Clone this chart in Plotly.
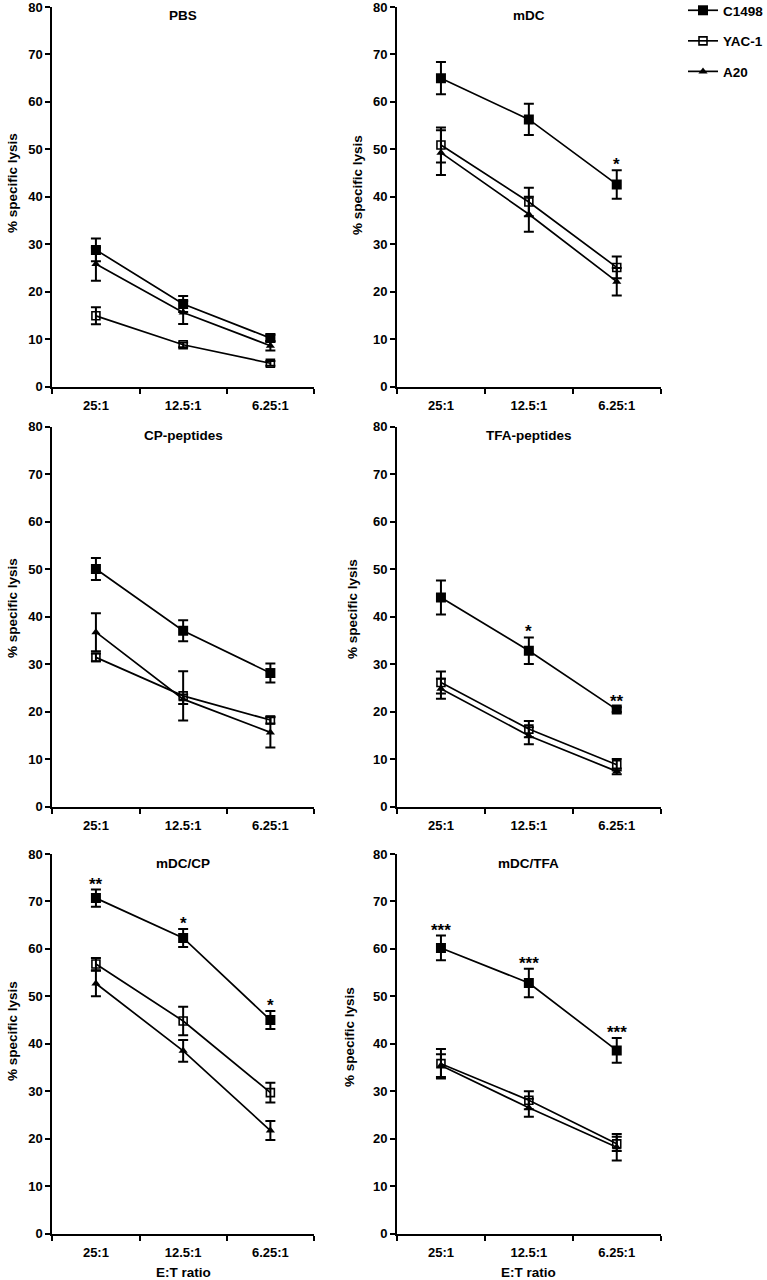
import plotly.graph_objects as go

ratios = ["25:1", "12.5:1", "6.25:1"]
panel_titles = ["PBS", "mDC", "CP-peptides", "TFA-peptides", "mDC/CP", "mDC/TFA"]
series_names = ["C1498", "YAC-1", "A20"]

# mean values (% specific lysis) and SEM per panel
pbs_c1498 = [28.8, 17.4, 10.2]
pbs_c1498_err = [2.4, 1.7, 0.7]
pbs_yac1 = [14.9, 8.8, 4.9]
pbs_yac1_err = [1.8, 0.5, 0.5]
pbs_a20 = [25.8, 15.6, 8.6]
pbs_a20_err = [3.5, 2.4, 1.0]

mdc_c1498 = [65.0, 56.3, 42.6]
mdc_c1498_err = [3.4, 3.3, 3.0]
mdc_yac1 = [50.9, 38.9, 25.1]
mdc_yac1_err = [3.7, 3.0, 2.3]
mdc_a20 = [49.3, 36.3, 22.1]
mdc_a20_err = [4.7, 3.7, 2.9]

cp_c1498 = [50.0, 37.0, 28.1]
cp_c1498_err = [2.3, 2.2, 2.0]
cp_yac1 = [31.4, 23.3, 18.2]
cp_yac1_err = [0.8, 5.2, 0.7]
cp_a20 = [36.7, 22.6, 15.6]
cp_a20_err = [4.0, 1.0, 3.2]

tfa_c1498 = [44.0, 32.8, 20.4]
tfa_c1498_err = [3.6, 2.8, 0.5]
tfa_yac1 = [26.1, 16.3, 8.8]
tfa_yac1_err = [2.3, 1.7, 1.2]
tfa_a20 = [24.8, 14.9, 7.4]
tfa_a20_err = [2.1, 1.8, 0.6]

mdccp_c1498 = [70.7, 62.3, 45.0]
mdccp_c1498_err = [1.8, 1.9, 1.9]
mdccp_yac1 = [56.8, 44.8, 29.7]
mdccp_yac1_err = [1.3, 3.0, 2.1]
mdccp_a20 = [52.7, 38.5, 21.7]
mdccp_a20_err = [2.7, 2.3, 2.0]

mdctfa_c1498 = [60.2, 52.8, 38.6]
mdctfa_c1498_err = [2.6, 3.0, 2.6]
mdctfa_yac1 = [35.8, 28.1, 18.9]
mdctfa_yac1_err = [3.1, 1.9, 1.5]
mdctfa_a20 = [35.4, 26.5, 18.2]
mdctfa_a20_err = [2.4, 1.9, 2.8]

# significance marks above C1498
sig_pbs = ["", "", ""]
sig_mdc = ["", "", "*"]
sig_cp = ["", "", ""]
sig_tfa = ["", "*", "**"]
sig_mdccp = ["**", "*", "*"]
sig_mdctfa = ["***", "***", "***"]

y_ticks = [0, 10, 20, 30, 40, 50, 60, 70, 80]

panels = [
    (pbs_c1498, pbs_c1498_err, pbs_yac1, pbs_yac1_err, pbs_a20, pbs_a20_err, sig_pbs),
    (mdc_c1498, mdc_c1498_err, mdc_yac1, mdc_yac1_err, mdc_a20, mdc_a20_err, sig_mdc),
    (cp_c1498, cp_c1498_err, cp_yac1, cp_yac1_err, cp_a20, cp_a20_err, sig_cp),
    (tfa_c1498, tfa_c1498_err, tfa_yac1, tfa_yac1_err, tfa_a20, tfa_a20_err, sig_tfa),
    (mdccp_c1498, mdccp_c1498_err, mdccp_yac1, mdccp_yac1_err, mdccp_a20, mdccp_a20_err, sig_mdccp),
    (mdctfa_c1498, mdctfa_c1498_err, mdctfa_yac1, mdctfa_yac1_err, mdctfa_a20, mdctfa_a20_err, sig_mdctfa),
]

W, H = 767, 1280
FONT = "Liberation Sans, Arial, sans-serif"

# layout geometry in pixels
col_x = [(52.3, 314.0), (397.0, 660.7)]
row_y = [(7.0, 386.5), (426.5, 806.5), (854.0, 1233.5)]
ytitle_pos = [(13, 183), (357, 185), (12, 608), (352, 609), (12, 1031), (349, 1037)]

styles = [
    dict(symbol="square", size=10, color="black", line=dict(width=0, color="black")),
    dict(symbol="square-open", size=8, color="black", line=dict(width=1.6, color="black")),
    dict(symbol="triangle-up", size=8, color="black", line=dict(width=0, color="black")),
]

fig = go.Figure()
annotations = []

for i, p in enumerate(panels):
    r, c = divmod(i, 2)
    ax = "" if i == 0 else str(i + 1)
    xref, yref = "x" + ax, "y" + ax
    means = [p[0], p[2], p[4]]
    errs = [p[1], p[3], p[5]]
    sig = p[6]
    for s in [2, 1, 0]:
        fig.add_trace(go.Scatter(
            x=ratios, y=means[s],
            error_y=dict(type="data", array=errs[s], visible=True, color="black",
                         thickness=2, width=5),
            mode="lines+markers",
            line=dict(color="black", width=1.7),
            marker=styles[s],
            name=series_names[s],
            legendgroup=series_names[s],
            legendrank=s + 1,
            showlegend=(i == 1),
            xaxis=xref, yaxis=yref,
        ))
    x0, x1 = col_x[c]
    y0, y1 = row_y[r]
    fig.layout["xaxis" + ax] = dict(
        domain=[x0 / W, x1 / W], anchor=yref, type="category", automargin=False,
        categoryorder="array", categoryarray=ratios, range=[-0.5, 2.5],
        showline=True, linecolor="black", linewidth=2, mirror=False,
        ticks="outside", tickson="boundaries", ticklen=5, tickwidth=1.5, tickcolor="black",
        ticklabelstandoff=6,
        showgrid=False, zeroline=False,
        tickfont=dict(family=FONT, size=13, color="black", weight="bold"),
    )
    fig.layout["yaxis" + ax] = dict(
        domain=[1 - y1 / H, 1 - y0 / H], anchor=xref, range=[0, 80], automargin=False,
        tickvals=y_ticks, showline=True, linecolor="black", linewidth=2,
        ticks="outside", ticklen=5, tickwidth=1.5, tickcolor="black",
        ticklabeloverflow="allow",
        showgrid=False, zeroline=False,
        tickfont=dict(family=FONT, size=13, color="black", weight="bold"),
    )
    # panel title
    annotations.append(dict(
        text=panel_titles[i], xref="paper", yref="paper",
        x=((x0 + x1) / 2) / W, y=1 - (y0 + 9) / H, xanchor="center", yanchor="middle",
        showarrow=False, font=dict(family=FONT, size=13.5, color="black", weight="bold"),
    ))
    # y title
    tx, ty = ytitle_pos[i]
    annotations.append(dict(
        text="% specific lysis", xref="paper", yref="paper", textangle=-90,
        x=tx / W, y=1 - ty / H, xanchor="center", yanchor="middle",
        showarrow=False, font=dict(family=FONT, size=13.5, color="black", weight="bold"),
    ))
    # significance stars
    for k in range(3):
        if sig[k]:
            annotations.append(dict(
                text=sig[k], x=ratios[k], y=means[0][k] + errs[0][k],
                xref=xref, yref=yref, xanchor="center", yanchor="bottom",
                yshift=-6, showarrow=False,
                font=dict(family=FONT, size=17, color="black", weight="bold"),
            ))
    if r == 2:
        annotations.append(dict(
            text="E:T ratio", xref="paper", yref="paper",
            x=((x0 + x1) / 2) / W, y=1 - 1272 / H, xanchor="center", yanchor="middle",
            showarrow=False, font=dict(family=FONT, size=13.5, color="black", weight="bold"),
        ))

fig.update_layout(
    width=W, height=H,
    margin=dict(l=0, r=0, t=0, b=0, autoexpand=False),
    paper_bgcolor="white", plot_bgcolor="white",
    font=dict(family=FONT, size=13, color="black", weight="bold"),
    annotations=annotations,
    showlegend=True,
    hovermode=False,
    legend=dict(
        x=683 / W, y=1 + 5 / H, xanchor="left", yanchor="top",
        tracegroupgap=10, traceorder="grouped",
        font=dict(family=FONT, size=13.5, color="black", weight="bold"),
        bgcolor="rgba(0,0,0,0)",
    ),
)

fig.write_html(
    "out.html",
    config={"displayModeBar": False},
    post_script="document.body.style.margin='0';document.body.style.overflow='hidden';",
)
